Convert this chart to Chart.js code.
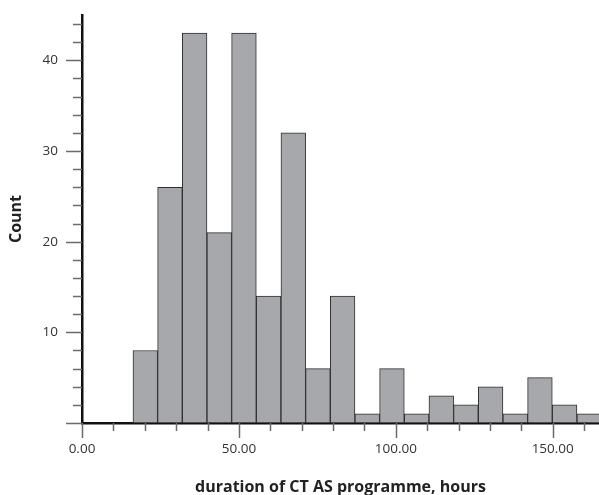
<!DOCTYPE html>
<html>
<head>
<meta charset="utf-8">
<script src="https://cdn.jsdelivr.net/npm/chart.js@4"></script>
<style>
  html, body { margin: 0; padding: 0; background: #fff; }
  #wrap { width: 599px; height: 495px; }
</style>
</head>
<body>
<div id="wrap"><canvas id="myChart" width="599" height="495"></canvas></div>
<script>
// histogram bin edges (hours)
const binEdges = [16.24, 24.10, 31.96, 39.82, 47.68, 55.54, 63.40, 71.26, 79.12, 86.98,
  94.84, 102.70, 110.56, 118.42, 126.28, 134.14, 142.00, 149.86, 157.72, 165.58];
// count per bin
const counts = [8, 26, 43, 21, 43, 14, 32, 6, 14, 1, 6, 1, 3, 2, 4, 1, 5, 2, 1];
const xTicks = [0, 50, 100, 150];
const yTicks = [10, 20, 30, 40];

const points = counts.map((c, i) => ({ x: (binEdges[i] + binEdges[i + 1]) / 2, y: c }));

// tick marks: minor + major, drawn off the library scales
const tickMarks = {
  id: "tickMarks",
  afterDraw(chart) {
    const { ctx, scales: { x, y }, chartArea } = chart;
    ctx.save();
    ctx.strokeStyle = "#6a6a6a";
    ctx.lineWidth = 1.5;
    for (let v = 0; v <= 44; v += 2) {
      const py = Math.round(y.getPixelForValue(v)) + 0.5;
      const len = v % 10 === 0 ? 16 : 9;
      ctx.beginPath();
      ctx.moveTo(chartArea.left - len, py);
      ctx.lineTo(chartArea.left, py);
      ctx.stroke();
    }
    for (let v = 0; v <= 160; v += 10) {
      const px = Math.round(x.getPixelForValue(v)) + 0.5;
      const len = v % 50 === 0 ? 15 : 8;
      ctx.beginPath();
      ctx.moveTo(px, chartArea.bottom);
      ctx.lineTo(px, chartArea.bottom + len);
      ctx.stroke();
    }
    ctx.restore();
  },
};

const ctx = document.getElementById("myChart");
const config = {
  type: "bar",
  data: {
    datasets: [
      {
        label: "Count",
        data: points,
        backgroundColor: "#a7a8ab",
        borderColor: "#2e2e2e",
        borderWidth: 1,
        borderSkipped: false,
        barPercentage: 1,
        categoryPercentage: 1,
      },
    ],
  },
  options: {
    responsive: false,
    animation: false,
    layout: { padding: { top: 15, right: 0, bottom: 0, left: 0 } },
    plugins: { legend: { display: false }, tooltip: { enabled: false } },
    scales: {
      x: {
        type: "linear",
        offset: false,
        min: 0,
        max: 164.75,
        grid: { display: false, drawTicks: false },
        border: { display: true, color: "#111", width: 2.5 },
        afterBuildTicks: (s) => { s.ticks = xTicks.map((v) => ({ value: v })); },
        afterFit: (s) => { s.height = 72; s.paddingLeft = 0; s.paddingRight = 0; },
        ticks: {
          padding: 18,
          color: "#333",
          font: { family: "Open Sans", size: 13.5 },
          callback: (v) => Number(v).toFixed(2),
        },
        title: {
          display: true,
          text: "duration of CT AS programme, hours",
          color: "#222",
          font: { family: "Open Sans", size: 16, weight: "bold", lineHeight: 1 },
          padding: { top: 0, bottom: 0 },
        },
      },
      y: {
        min: 0,
        max: 45,
        grid: { display: false, drawTicks: false },
        border: { display: true, color: "#111", width: 2.5 },
        afterBuildTicks: (s) => { s.ticks = yTicks.map((v) => ({ value: v })); },
        afterFit: (s) => { s.width = 82; s.paddingTop = 0; s.paddingBottom = 0; },
        ticks: {
          padding: 24,
          color: "#333",
          font: { family: "Open Sans", size: 13.5 },
        },
        title: {
          display: true,
          text: "Count",
          color: "#222",
          font: { family: "Open Sans", size: 16, weight: "bold" },
          padding: { top: 7, bottom: 0 },
        },
      },
    },
  },
  plugins: [tickMarks],
};
const myChart = new Chart(ctx, config);
</script>
</body>
</html>
